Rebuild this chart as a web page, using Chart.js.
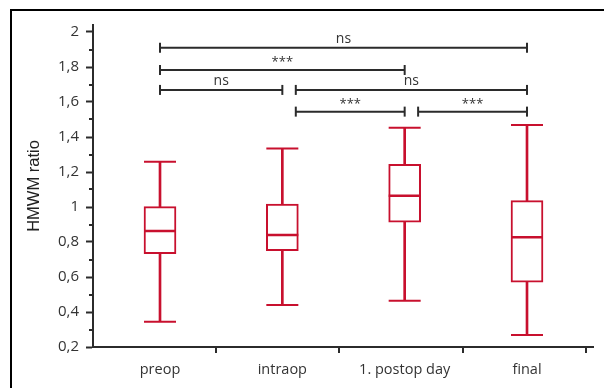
<!DOCTYPE html>
<html>
<head>
<meta charset="utf-8">
<script src="https://cdn.jsdelivr.net/npm/chart.js@4/dist/chart.umd.min.js"></script>
<style>
  html, body { margin: 0; padding: 0; background: #fff; }
  #wrap { position: relative; width: 604px; height: 388px; overflow: hidden; }
  #frame { position: absolute; left: 10px; top: 9px; width: 700px; height: 500px;
           border-left: 2px solid #000; border-top: 2px solid #000; }
  canvas { position: absolute; left: 0; top: 0; }
</style>
</head>
<body>
<div id="wrap">
  <div id="frame"></div>
  <canvas id="box-chart" width="604" height="388"></canvas>
</div>
<script>
// box plot values
const categories = ["preop", "intraop", "1. postop day", "final"];
const whiskerLow = [0.345, 0.44, 0.465, 0.268];
const q1 = [0.733, 0.75, 0.914, 0.57];
const median = [0.863, 0.84, 1.065, 0.827];
const q3 = [1.002, 1.017, 1.244, 1.036];
const whiskerHigh = [1.259, 1.335, 1.453, 1.469];

// significance brackets (x in category units)
const bracketFrom = [0, 0, 0, 1.11, 1.11, 2.11];
const bracketTo = [3, 2, 1, 3, 2, 3];
const bracketLevel = [1.91, 1.783, 1.669, 1.669, 1.545, 1.545];
const bracketLabel = ["ns", "***", "ns", "ns", "***", "***"];

// x axis tick marks between groups
const boundaryTicks = [0.46, 1.465, 2.475, 3.48];

const red = "#c8102e";
const dark = "#2b2b2b";
const isMajor = v => Math.round(v * 10) % 2 === 0;

const extras = {
  id: "extras",
  afterDraw(chart) {
    const ctx = chart.ctx, xs = chart.scales.x, ys = chart.scales.y, area = chart.chartArea;
    ctx.save();
    ctx.strokeStyle = dark;
    ctx.lineWidth = 2;
    // minor y ticks
    ys.ticks.forEach(t => {
      if (isMajor(t.value)) return;
      const py = Math.round(ys.getPixelForValue(t.value));
      ctx.beginPath();
      ctx.moveTo(area.left - 4, py);
      ctx.lineTo(area.left, py);
      ctx.stroke();
    });
    // x ticks between the groups
    boundaryTicks.forEach(b => {
      const px = Math.round(xs.getPixelForValue(b));
      ctx.beginPath();
      ctx.moveTo(px, area.bottom);
      ctx.lineTo(px, area.bottom + 6);
      ctx.stroke();
    });
    // bracket labels
    ctx.fillStyle = "#333";
    ctx.textAlign = "center";
    ctx.textBaseline = "bottom";
    bracketLabel.forEach((lab, i) => {
      const px = xs.getPixelForValue((bracketFrom[i] + bracketTo[i]) / 2);
      const py = ys.getPixelForValue(bracketLevel[i]);
      ctx.font = lab === "ns" ? "14px 'Open Sans'" : "13px 'Open Sans'";
      ctx.fillText(lab, px, lab === "ns" ? py - 2 : py - 1);
    });
    ctx.restore();
  }
};

const bracketSets = bracketLabel.map((lab, i) => ({
  type: "line",
  data: [{x: bracketFrom[i], y: bracketLevel[i]}, {x: bracketTo[i], y: bracketLevel[i]}],
  borderColor: dark,
  borderWidth: 2,
  pointStyle: "line",
  rotation: 90,
  pointRadius: 5,
  pointBorderWidth: 2,
  pointBorderColor: dark,
  clip: false,
  order: 0
}));

new Chart(document.getElementById("box-chart"), {
  type: "bar",
  data: {
    datasets: [
      {
        // whisker stems
        data: categories.map((c, i) => ({x: i, y: [whiskerLow[i], whiskerHigh[i]]})),
        backgroundColor: red,
        barThickness: 2,
        grouped: false,
        order: 4
      },
      {
        // boxes
        data: categories.map((c, i) => ({x: i, y: [q1[i], q3[i]]})),
        backgroundColor: "#fff",
        borderColor: red,
        borderWidth: 2,
        borderSkipped: false,
        barThickness: 32,
        grouped: false,
        order: 3
      },
      {
        // whisker caps
        type: "line",
        data: categories.flatMap((c, i) => [{x: i, y: whiskerLow[i]}, {x: i, y: whiskerHigh[i]}]),
        showLine: false,
        pointStyle: "line",
        pointRadius: 16,
        pointBorderWidth: 2,
        borderColor: red,
        pointBorderColor: red,
        clip: false,
        order: 2
      },
      {
        // medians
        type: "line",
        data: categories.map((c, i) => ({x: i, y: median[i]})),
        showLine: false,
        pointStyle: "line",
        pointRadius: 16,
        pointBorderWidth: 2.5,
        borderColor: red,
        pointBorderColor: red,
        clip: false,
        order: 1
      },
      ...bracketSets
    ]
  },
  options: {
    responsive: false,
    animation: false,
    layout: { autoPadding: false, padding: { top: 25, right: 11, left: 0, bottom: 0 } },
    plugins: {
      legend: { display: false },
      tooltip: { enabled: false }
    },
    scales: {
      x: {
        type: "linear",
        position: "bottom",
        offset: false,
        min: -0.5477,
        max: 3.5395,
        afterBuildTicks: scale => { scale.ticks = categories.map((c, i) => ({value: i})); },
        afterFit: scale => { scale.height = 41; },
        ticks: {
          autoSkip: false,
          maxRotation: 0,
          padding: 14,
          color: "#333",
          font: { family: "'Open Sans'", size: 14.5 },
          callback: (v) => categories[v] !== undefined ? categories[v] : ""
        },
        grid: { drawOnChartArea: false, drawTicks: false, offset: false },
        border: { display: true, color: dark, width: 2 }
      },
      y: {
        min: 0.2,
        max: 2.04,
        afterFit: scale => { scale.width = 93; },
        ticks: {
          stepSize: 0.1,
          includeBounds: false,
          autoSkip: false,
          padding: 7,
          color: "#333",
          font: { family: "'Open Sans'", size: 15 },
          callback: v => isMajor(v) ? String(Math.round(v * 10) / 10).replace(".", ",") : ""
        },
        grid: {
          drawOnChartArea: false,
          tickLength: 7,
          tickWidth: 2,
          tickColor: ctx => (ctx.tick && isMajor(ctx.tick.value)) ? dark : "rgba(0,0,0,0)"
        },
        border: { display: true, color: dark, width: 2 },
        title: {
          display: true,
          text: "HMWM ratio",
          color: "#222",
          font: { family: "'Liberation Sans'", size: 16.5 },
          padding: { top: 25, bottom: 0 }
        }
      }
    }
  },
  plugins: [extras]
});
</script>
</body>
</html>
